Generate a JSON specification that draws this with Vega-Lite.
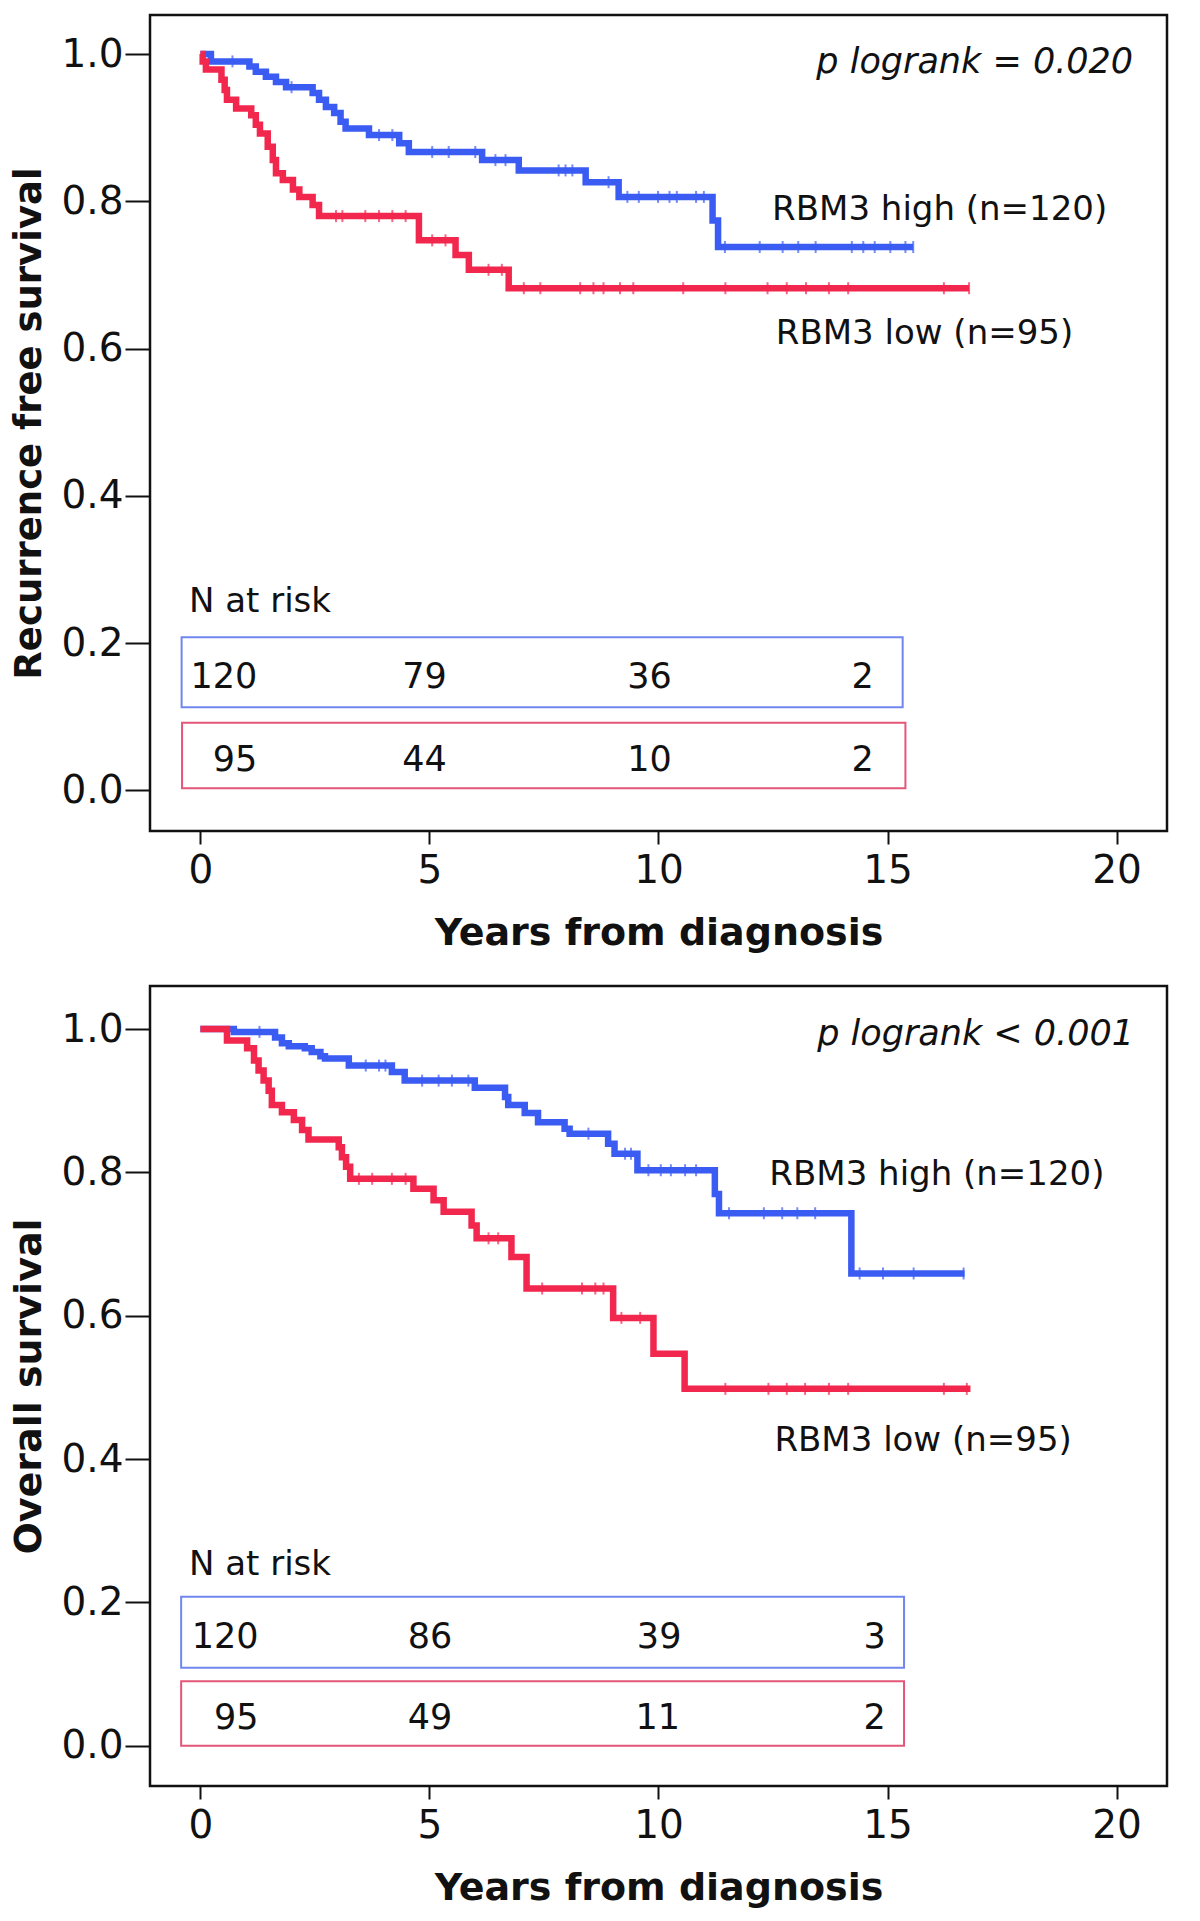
{
  "$schema": "https://vega.github.io/schema/vega-lite/v6.json",
  "background": "white",
  "padding": {"left": 9, "top": 13, "right": 0, "bottom": 0},
  "config": {
    "font": "DejaVu Sans",
    "view": {"stroke": "#111111", "strokeWidth": 2.5},
    "concat": {"spacing": 30},
    "axis": {
      "domain": false, "grid": false, "tickColor": "#111111", "tickWidth": 2,
      "labelFont": "DejaVu Sans", "labelFontSize": 39, "labelColor": "#111111",
      "titleFont": "DejaVu Sans", "titleFontWeight": "bold", "titleFontSize": 38, "titleColor": "#111111"
    }
  },
  "datasets": {
    "curves": [
      {"panel":"rfs","group":"high","t":0,"s":1.0},{"panel":"rfs","group":"high","t":0.23,"s":0.990},{"panel":"rfs","group":"high","t":1.07,"s":0.983},{"panel":"rfs","group":"high","t":1.21,"s":0.976},{"panel":"rfs","group":"high","t":1.43,"s":0.969},{"panel":"rfs","group":"high","t":1.65,"s":0.962},{"panel":"rfs","group":"high","t":1.87,"s":0.955},{"panel":"rfs","group":"high","t":2.45,"s":0.947},{"panel":"rfs","group":"high","t":2.59,"s":0.938},{"panel":"rfs","group":"high","t":2.74,"s":0.928},{"panel":"rfs","group":"high","t":2.92,"s":0.920},{"panel":"rfs","group":"high","t":3.06,"s":0.908},{"panel":"rfs","group":"high","t":3.17,"s":0.899},{"panel":"rfs","group":"high","t":3.68,"s":0.890},{"panel":"rfs","group":"high","t":4.34,"s":0.879},{"panel":"rfs","group":"high","t":4.55,"s":0.867},{"panel":"rfs","group":"high","t":6.15,"s":0.856},{"panel":"rfs","group":"high","t":6.95,"s":0.842},{"panel":"rfs","group":"high","t":8.41,"s":0.826},{"panel":"rfs","group":"high","t":9.13,"s":0.806},{"panel":"rfs","group":"high","t":11.18,"s":0.774},{"panel":"rfs","group":"high","t":11.3,"s":0.738},{"panel":"rfs","group":"high","t":15.56,"s":0.738},
      {"panel":"rfs","group":"low","t":0,"s":1.0},{"panel":"rfs","group":"low","t":0.05,"s":0.990},{"panel":"rfs","group":"low","t":0.12,"s":0.979},{"panel":"rfs","group":"low","t":0.46,"s":0.965},{"panel":"rfs","group":"low","t":0.53,"s":0.951},{"panel":"rfs","group":"low","t":0.58,"s":0.938},{"panel":"rfs","group":"low","t":0.78,"s":0.926},{"panel":"rfs","group":"low","t":1.11,"s":0.917},{"panel":"rfs","group":"low","t":1.21,"s":0.904},{"panel":"rfs","group":"low","t":1.3,"s":0.892},{"panel":"rfs","group":"low","t":1.47,"s":0.874},{"panel":"rfs","group":"low","t":1.58,"s":0.856},{"panel":"rfs","group":"low","t":1.65,"s":0.838},{"panel":"rfs","group":"low","t":1.8,"s":0.829},{"panel":"rfs","group":"low","t":2.02,"s":0.816},{"panel":"rfs","group":"low","t":2.16,"s":0.806},{"panel":"rfs","group":"low","t":2.45,"s":0.795},{"panel":"rfs","group":"low","t":2.59,"s":0.780},{"panel":"rfs","group":"low","t":4.77,"s":0.747},{"panel":"rfs","group":"low","t":5.57,"s":0.727},{"panel":"rfs","group":"low","t":5.86,"s":0.707},{"panel":"rfs","group":"low","t":6.73,"s":0.682},{"panel":"rfs","group":"low","t":16.78,"s":0.682},
      {"panel":"os","group":"high","t":0,"s":1.0},{"panel":"os","group":"high","t":0.73,"s":0.996},{"panel":"os","group":"high","t":1.63,"s":0.988},{"panel":"os","group":"high","t":1.78,"s":0.980},{"panel":"os","group":"high","t":1.93,"s":0.976},{"panel":"os","group":"high","t":2.28,"s":0.973},{"panel":"os","group":"high","t":2.43,"s":0.968},{"panel":"os","group":"high","t":2.62,"s":0.962},{"panel":"os","group":"high","t":2.72,"s":0.959},{"panel":"os","group":"high","t":3.24,"s":0.949},{"panel":"os","group":"high","t":4.18,"s":0.940},{"panel":"os","group":"high","t":4.46,"s":0.928},{"panel":"os","group":"high","t":5.99,"s":0.918},{"panel":"os","group":"high","t":6.65,"s":0.905},{"panel":"os","group":"high","t":6.72,"s":0.894},{"panel":"os","group":"high","t":7.08,"s":0.883},{"panel":"os","group":"high","t":7.37,"s":0.870},{"panel":"os","group":"high","t":7.95,"s":0.861},{"panel":"os","group":"high","t":8.06,"s":0.854},{"panel":"os","group":"high","t":8.9,"s":0.840},{"panel":"os","group":"high","t":9.04,"s":0.826},{"panel":"os","group":"high","t":9.54,"s":0.803},{"panel":"os","group":"high","t":11.23,"s":0.770},{"panel":"os","group":"high","t":11.32,"s":0.743},{"panel":"os","group":"high","t":14.21,"s":0.659},{"panel":"os","group":"high","t":16.68,"s":0.659},
      {"panel":"os","group":"low","t":0,"s":1.0},{"panel":"os","group":"low","t":0.58,"s":0.984},{"panel":"os","group":"low","t":1.02,"s":0.973},{"panel":"os","group":"low","t":1.17,"s":0.956},{"panel":"os","group":"low","t":1.27,"s":0.942},{"panel":"os","group":"low","t":1.38,"s":0.928},{"panel":"os","group":"low","t":1.49,"s":0.914},{"panel":"os","group":"low","t":1.56,"s":0.894},{"panel":"os","group":"low","t":1.78,"s":0.884},{"panel":"os","group":"low","t":2.04,"s":0.873},{"panel":"os","group":"low","t":2.22,"s":0.859},{"panel":"os","group":"low","t":2.36,"s":0.846},{"panel":"os","group":"low","t":3.02,"s":0.835},{"panel":"os","group":"low","t":3.09,"s":0.821},{"panel":"os","group":"low","t":3.18,"s":0.808},{"panel":"os","group":"low","t":3.27,"s":0.791},{"panel":"os","group":"low","t":4.65,"s":0.777},{"panel":"os","group":"low","t":5.09,"s":0.761},{"panel":"os","group":"low","t":5.31,"s":0.745},{"panel":"os","group":"low","t":5.92,"s":0.726},{"panel":"os","group":"low","t":6.03,"s":0.708},{"panel":"os","group":"low","t":6.79,"s":0.682},{"panel":"os","group":"low","t":7.12,"s":0.638},{"panel":"os","group":"low","t":9.01,"s":0.597},{"panel":"os","group":"low","t":9.89,"s":0.547},{"panel":"os","group":"low","t":10.57,"s":0.498},{"panel":"os","group":"low","t":16.81,"s":0.498}
    ],
    "censor": [
      {"panel":"rfs","group":"high","t":0.70,"s":0.990},{"panel":"rfs","group":"high","t":1.99,"s":0.955},{"panel":"rfs","group":"high","t":3.9,"s":0.890},{"panel":"rfs","group":"high","t":4.19,"s":0.890},{"panel":"rfs","group":"high","t":5.06,"s":0.867},{"panel":"rfs","group":"high","t":5.42,"s":0.867},{"panel":"rfs","group":"high","t":6.0,"s":0.867},{"panel":"rfs","group":"high","t":6.44,"s":0.856},{"panel":"rfs","group":"high","t":6.66,"s":0.856},{"panel":"rfs","group":"high","t":7.82,"s":0.842},{"panel":"rfs","group":"high","t":7.97,"s":0.842},{"panel":"rfs","group":"high","t":8.12,"s":0.842},{"panel":"rfs","group":"high","t":8.91,"s":0.826},{"panel":"rfs","group":"high","t":9.32,"s":0.806},{"panel":"rfs","group":"high","t":9.57,"s":0.806},{"panel":"rfs","group":"high","t":9.99,"s":0.806},{"panel":"rfs","group":"high","t":10.24,"s":0.806},{"panel":"rfs","group":"high","t":10.4,"s":0.806},{"panel":"rfs","group":"high","t":10.82,"s":0.806},{"panel":"rfs","group":"high","t":10.99,"s":0.806},{"panel":"rfs","group":"high","t":11.45,"s":0.738},{"panel":"rfs","group":"high","t":12.21,"s":0.738},{"panel":"rfs","group":"high","t":12.71,"s":0.738},{"panel":"rfs","group":"high","t":13.05,"s":0.738},{"panel":"rfs","group":"high","t":13.43,"s":0.738},{"panel":"rfs","group":"high","t":14.22,"s":0.738},{"panel":"rfs","group":"high","t":14.47,"s":0.738},{"panel":"rfs","group":"high","t":14.72,"s":0.738},{"panel":"rfs","group":"high","t":15.06,"s":0.738},{"panel":"rfs","group":"high","t":15.39,"s":0.738},{"panel":"rfs","group":"high","t":15.56,"s":0.738},
      {"panel":"rfs","group":"low","t":2.96,"s":0.780},{"panel":"rfs","group":"low","t":3.1,"s":0.780},{"panel":"rfs","group":"low","t":3.6,"s":0.780},{"panel":"rfs","group":"low","t":3.9,"s":0.780},{"panel":"rfs","group":"low","t":4.19,"s":0.780},{"panel":"rfs","group":"low","t":4.48,"s":0.780},{"panel":"rfs","group":"low","t":5.06,"s":0.747},{"panel":"rfs","group":"low","t":5.35,"s":0.747},{"panel":"rfs","group":"low","t":6.29,"s":0.707},{"panel":"rfs","group":"low","t":6.58,"s":0.707},{"panel":"rfs","group":"low","t":7.06,"s":0.682},{"panel":"rfs","group":"low","t":7.42,"s":0.682},{"panel":"rfs","group":"low","t":8.29,"s":0.682},{"panel":"rfs","group":"low","t":8.58,"s":0.682},{"panel":"rfs","group":"low","t":8.8,"s":0.682},{"panel":"rfs","group":"low","t":9.16,"s":0.682},{"panel":"rfs","group":"low","t":9.45,"s":0.682},{"panel":"rfs","group":"low","t":10.54,"s":0.682},{"panel":"rfs","group":"low","t":11.46,"s":0.682},{"panel":"rfs","group":"low","t":12.38,"s":0.682},{"panel":"rfs","group":"low","t":12.8,"s":0.682},{"panel":"rfs","group":"low","t":13.22,"s":0.682},{"panel":"rfs","group":"low","t":13.72,"s":0.682},{"panel":"rfs","group":"low","t":14.14,"s":0.682},{"panel":"rfs","group":"low","t":16.23,"s":0.682},{"panel":"rfs","group":"low","t":16.78,"s":0.682},
      {"panel":"os","group":"high","t":1.29,"s":0.996},{"panel":"os","group":"high","t":3.61,"s":0.949},{"panel":"os","group":"high","t":3.9,"s":0.949},{"panel":"os","group":"high","t":4.04,"s":0.949},{"panel":"os","group":"high","t":4.84,"s":0.928},{"panel":"os","group":"high","t":5.2,"s":0.928},{"panel":"os","group":"high","t":5.49,"s":0.928},{"panel":"os","group":"high","t":5.85,"s":0.928},{"panel":"os","group":"high","t":8.47,"s":0.854},{"panel":"os","group":"high","t":9.27,"s":0.826},{"panel":"os","group":"high","t":9.4,"s":0.826},{"panel":"os","group":"high","t":9.78,"s":0.803},{"panel":"os","group":"high","t":10.05,"s":0.803},{"panel":"os","group":"high","t":10.27,"s":0.803},{"panel":"os","group":"high","t":10.58,"s":0.803},{"panel":"os","group":"high","t":10.82,"s":0.803},{"panel":"os","group":"high","t":11.54,"s":0.743},{"panel":"os","group":"high","t":12.3,"s":0.743},{"panel":"os","group":"high","t":12.7,"s":0.743},{"panel":"os","group":"high","t":13.03,"s":0.743},{"panel":"os","group":"high","t":13.42,"s":0.743},{"panel":"os","group":"high","t":14.39,"s":0.659},{"panel":"os","group":"high","t":14.9,"s":0.659},{"panel":"os","group":"high","t":15.57,"s":0.659},{"panel":"os","group":"high","t":16.66,"s":0.659},
      {"panel":"os","group":"low","t":3.46,"s":0.791},{"panel":"os","group":"low","t":3.75,"s":0.791},{"panel":"os","group":"low","t":4.18,"s":0.791},{"panel":"os","group":"low","t":4.48,"s":0.791},{"panel":"os","group":"low","t":6.29,"s":0.708},{"panel":"os","group":"low","t":6.5,"s":0.708},{"panel":"os","group":"low","t":7.46,"s":0.638},{"panel":"os","group":"low","t":8.33,"s":0.638},{"panel":"os","group":"low","t":8.62,"s":0.638},{"panel":"os","group":"low","t":8.8,"s":0.638},{"panel":"os","group":"low","t":9.19,"s":0.597},{"panel":"os","group":"low","t":9.6,"s":0.597},{"panel":"os","group":"low","t":11.46,"s":0.498},{"panel":"os","group":"low","t":12.4,"s":0.498},{"panel":"os","group":"low","t":12.8,"s":0.498},{"panel":"os","group":"low","t":13.2,"s":0.498},{"panel":"os","group":"low","t":13.72,"s":0.498},{"panel":"os","group":"low","t":14.14,"s":0.498},{"panel":"os","group":"low","t":16.23,"s":0.498},{"panel":"os","group":"low","t":16.73,"s":0.498}
    ],
    "boxes": [
      {"panel":"rfs","group":"high","x":-0.41,"x2":15.33,"y":0.113,"y2":0.208},
      {"panel":"rfs","group":"low","x":-0.40,"x2":15.39,"y":0.003,"y2":0.092},
      {"panel":"os","group":"high","x":-0.42,"x2":15.36,"y":0.109,"y2":0.208},
      {"panel":"os","group":"low","x":-0.42,"x2":15.36,"y":0.0,"y2":0.090}
    ],
    "risk": [
      {"panel":"rfs","group":"high","x":1.24,"y":0.139,"n":"120"},{"panel":"rfs","group":"high","x":5.38,"y":0.139,"n":"79"},{"panel":"rfs","group":"high","x":10.29,"y":0.139,"n":"36"},{"panel":"rfs","group":"high","x":14.7,"y":0.139,"n":"2"},
      {"panel":"rfs","group":"low","x":1.24,"y":0.026,"n":"95"},{"panel":"rfs","group":"low","x":5.38,"y":0.026,"n":"44"},{"panel":"rfs","group":"low","x":10.29,"y":0.026,"n":"10"},{"panel":"rfs","group":"low","x":14.7,"y":0.026,"n":"2"},
      {"panel":"os","group":"high","x":1.27,"y":0.136,"n":"120"},{"panel":"os","group":"high","x":5.5,"y":0.136,"n":"86"},{"panel":"os","group":"high","x":10.5,"y":0.136,"n":"39"},{"panel":"os","group":"high","x":14.96,"y":0.136,"n":"3"},
      {"panel":"os","group":"low","x":1.27,"y":0.024,"n":"95"},{"panel":"os","group":"low","x":5.5,"y":0.024,"n":"49"},{"panel":"os","group":"low","x":10.47,"y":0.024,"n":"11"},{"panel":"os","group":"low","x":14.96,"y":0.024,"n":"2"}
    ],
    "notes": [
      {"panel":"rfs","x":12.48,"y":0.7745,"label":"RBM3 high (n=120)"},
      {"panel":"rfs","x":12.56,"y":0.606,"label":"RBM3 low (n=95)"},
      {"panel":"rfs","x":-0.25,"y":0.242,"label":"N at risk"},
      {"panel":"os","x":12.42,"y":0.782,"label":"RBM3 high (n=120)"},
      {"panel":"os","x":12.53,"y":0.411,"label":"RBM3 low (n=95)"},
      {"panel":"os","x":-0.25,"y":0.239,"label":"N at risk"}
    ],
    "pvals": [
      {"panel":"rfs","x":20.36,"y":0.9746,"label":"p logrank = 0.020"},
      {"panel":"os","x":20.38,"y":0.977,"label":"p logrank < 0.001"}
    ]
  },
  "vconcat": [
    {
      "width": 1017, "height": 816,
      "layer": [
        {
          "data": {"name": "boxes"},
          "transform": [{"filter": "datum.panel == 'rfs'"}],
          "mark": {"type": "rect", "fill": "transparent", "strokeWidth": 2},
          "encoding": {
            "x": {"field": "x", "type": "quantitative", "scale": {"domain": [-1.1, 21.1], "nice": false, "zero": false},
                  "axis": {"values": [0, 5, 10, 15, 20], "format": "d", "tickSize": 13, "labelPadding": 7, "titlePadding": 24, "labelFlush": false},
                  "title": "Years from diagnosis"},
            "x2": {"field": "x2"},
            "y": {"field": "y", "type": "quantitative", "scale": {"domain": [-0.055, 1.053], "nice": false, "zero": false},
                  "axis": {"values": [0, 0.2, 0.4, 0.6, 0.8, 1.0], "format": ".1f", "tickSize": 25, "labelPadding": 2, "titlePadding": 12, "titleFontSize": 37, "labelFlush": false},
                  "title": "Recurrence free survival"},
            "y2": {"field": "y2"},
            "stroke": {"field": "group", "type": "nominal", "scale": {"domain": ["high", "low"], "range": ["#6f87ee", "#e4557a"]}, "legend": null}
          }
        },
        {
          "data": {"name": "curves"},
          "transform": [{"filter": "datum.panel == 'rfs'"}],
          "mark": {"type": "line", "interpolate": "step-after", "strokeWidth": 6.5},
          "encoding": {
            "x": {"field": "t", "type": "quantitative"},
            "y": {"field": "s", "type": "quantitative"},
            "color": {"field": "group", "type": "nominal", "scale": {"domain": ["high", "low"], "range": ["#3a5cf2", "#f2274e"]}, "legend": null}
          }
        },
        {
          "data": {"name": "censor"},
          "transform": [{"filter": "datum.panel == 'rfs'"}],
          "mark": {"type": "tick", "orient": "vertical", "size": 12, "thickness": 2},
          "encoding": {
            "x": {"field": "t", "type": "quantitative"},
            "y": {"field": "s", "type": "quantitative"},
            "color": {"field": "group", "type": "nominal", "legend": null}
          }
        },
        {
          "data": {"name": "risk"},
          "transform": [{"filter": "datum.panel == 'rfs'"}],
          "mark": {"type": "text", "align": "right", "baseline": "alphabetic", "fontSize": 35, "color": "#111111"},
          "encoding": {
            "x": {"field": "x", "type": "quantitative"},
            "y": {"field": "y", "type": "quantitative"},
            "text": {"field": "n"}
          }
        },
        {
          "data": {"name": "notes"},
          "transform": [{"filter": "datum.panel == 'rfs'"}],
          "mark": {"type": "text", "align": "left", "baseline": "alphabetic", "fontSize": 34, "color": "#111111"},
          "encoding": {
            "x": {"field": "x", "type": "quantitative"},
            "y": {"field": "y", "type": "quantitative"},
            "text": {"field": "label"}
          }
        },
        {
          "data": {"name": "pvals"},
          "transform": [{"filter": "datum.panel == 'rfs'"}],
          "mark": {"type": "text", "align": "right", "baseline": "alphabetic", "fontSize": 35, "fontStyle": "italic", "color": "#111111"},
          "encoding": {
            "x": {"field": "x", "type": "quantitative"},
            "y": {"field": "y", "type": "quantitative"},
            "text": {"field": "label"}
          }
        }
      ]
    },
    {
      "width": 1017, "height": 800,
      "layer": [
        {
          "data": {"name": "boxes"},
          "transform": [{"filter": "datum.panel == 'os'"}],
          "mark": {"type": "rect", "fill": "transparent", "strokeWidth": 2},
          "encoding": {
            "x": {"field": "x", "type": "quantitative", "scale": {"domain": [-1.1, 21.1], "nice": false, "zero": false},
                  "axis": {"values": [0, 5, 10, 15, 20], "format": "d", "tickSize": 13, "labelPadding": 7, "titlePadding": 24, "labelFlush": false},
                  "title": "Years from diagnosis"},
            "x2": {"field": "x2"},
            "y": {"field": "y", "type": "quantitative", "scale": {"domain": [-0.056, 1.06], "nice": false, "zero": false},
                  "axis": {"values": [0, 0.2, 0.4, 0.6, 0.8, 1.0], "format": ".1f", "tickSize": 25, "labelPadding": 2, "titlePadding": 12, "titleFontSize": 38, "labelFlush": false},
                  "title": "Overall survival"},
            "y2": {"field": "y2"},
            "stroke": {"field": "group", "type": "nominal", "scale": {"domain": ["high", "low"], "range": ["#6f87ee", "#e86a9a"]}, "legend": null}
          }
        },
        {
          "data": {"name": "curves"},
          "transform": [{"filter": "datum.panel == 'os'"}],
          "mark": {"type": "line", "interpolate": "step-after", "strokeWidth": 6.5},
          "encoding": {
            "x": {"field": "t", "type": "quantitative"},
            "y": {"field": "s", "type": "quantitative"},
            "color": {"field": "group", "type": "nominal", "scale": {"domain": ["high", "low"], "range": ["#3a5cf2", "#f2274e"]}, "legend": null}
          }
        },
        {
          "data": {"name": "censor"},
          "transform": [{"filter": "datum.panel == 'os'"}],
          "mark": {"type": "tick", "orient": "vertical", "size": 12, "thickness": 2},
          "encoding": {
            "x": {"field": "t", "type": "quantitative"},
            "y": {"field": "s", "type": "quantitative"},
            "color": {"field": "group", "type": "nominal", "legend": null}
          }
        },
        {
          "data": {"name": "risk"},
          "transform": [{"filter": "datum.panel == 'os'"}],
          "mark": {"type": "text", "align": "right", "baseline": "alphabetic", "fontSize": 35, "color": "#111111"},
          "encoding": {
            "x": {"field": "x", "type": "quantitative"},
            "y": {"field": "y", "type": "quantitative"},
            "text": {"field": "n"}
          }
        },
        {
          "data": {"name": "notes"},
          "transform": [{"filter": "datum.panel == 'os'"}],
          "mark": {"type": "text", "align": "left", "baseline": "alphabetic", "fontSize": 34, "color": "#111111"},
          "encoding": {
            "x": {"field": "x", "type": "quantitative"},
            "y": {"field": "y", "type": "quantitative"},
            "text": {"field": "label"}
          }
        },
        {
          "data": {"name": "pvals"},
          "transform": [{"filter": "datum.panel == 'os'"}],
          "mark": {"type": "text", "align": "right", "baseline": "alphabetic", "fontSize": 35, "fontStyle": "italic", "color": "#111111"},
          "encoding": {
            "x": {"field": "x", "type": "quantitative"},
            "y": {"field": "y", "type": "quantitative"},
            "text": {"field": "label"}
          }
        }
      ]
    }
  ]
}
